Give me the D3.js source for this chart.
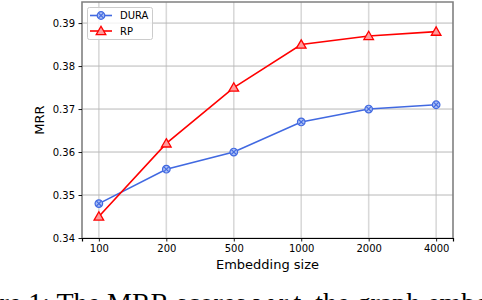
<!DOCTYPE html>
<html>
<head>
<meta charset="utf-8">
<script src="https://cdn.jsdelivr.net/npm/d3@7"></script>
<style>
  body { margin: 0; background: #fff; }
  svg { display: block; }
</style>
</head>
<body>
<script>
const svgW = 482;
const svgH = 300;

// data
const sizes = ['100', '200', '500', '1000', '2000', '4000'];
const dura = [0.348, 0.356, 0.360, 0.367, 0.370, 0.371];
const rp = [0.345, 0.362, 0.375, 0.385, 0.387, 0.388];
const yTicks = [0.34, 0.35, 0.36, 0.37, 0.38, 0.39];

const plot = { left: 82, right: 453, top: 2, bottom: 238 };
const font = 'DejaVu Sans, sans-serif';

const svg = d3.select('body')
  .append('svg')
  .attr('width', svgW)
  .attr('height', svgH);

const xScale = d3.scalePoint()
  .domain(sizes)
  .range([plot.left, plot.right])
  .padding(0.25);

const yScale = d3.scaleLinear()
  .domain([0.34, 0.3949])
  .range([plot.bottom, plot.top]);

// grid
svg.append('g')
  .selectAll('line')
  .data(sizes)
  .enter()
  .append('line')
  .attr('x1', d => xScale(d))
  .attr('x2', d => xScale(d))
  .attr('y1', plot.top)
  .attr('y2', plot.bottom)
  .attr('stroke', '#d9d9d9')
  .attr('stroke-width', 1.6);

svg.append('g')
  .selectAll('line')
  .data(yTicks)
  .enter()
  .append('line')
  .attr('x1', plot.left)
  .attr('x2', plot.right)
  .attr('y1', d => yScale(d))
  .attr('y2', d => yScale(d))
  .attr('stroke', '#b8b8b8')
  .attr('stroke-width', 1);

// spines: gray top/left/right, black bottom
svg.append('path')
  .attr('d', `M${plot.left},${plot.bottom}V${plot.top}H${plot.right}V${plot.bottom}`)
  .attr('fill', 'none')
  .attr('stroke', '#808080')
  .attr('stroke-width', 1.6);

// axes
const xAxis = d3.axisBottom(xScale).tickSize(3.5).tickPadding(3.5);
const gx = svg.append('g')
  .attr('transform', `translate(0, ${plot.bottom})`)
  .call(xAxis);
gx.select('.domain').attr('stroke', '#000').attr('stroke-width', 1.2);

const yAxis = d3.axisLeft(yScale).tickValues(yTicks).tickFormat(d3.format('.2f')).tickSize(3.5).tickPadding(3.5);
const gy = svg.append('g')
  .attr('transform', `translate(${plot.left}, 0)`)
  .call(yAxis);
gy.select('.domain').remove();

svg.selectAll('.tick text')
  .attr('font-family', font)
  .attr('font-size', 10)
  .attr('fill', '#000');
svg.selectAll('.tick line').attr('stroke', '#000').attr('stroke-width', 0.9);

// axis labels
svg.append('text')
  .attr('x', (plot.left + plot.right) / 2)
  .attr('y', 268.5)
  .attr('text-anchor', 'middle')
  .attr('font-family', font)
  .attr('font-size', 13)
  .text('Embedding size');

svg.append('text')
  .attr('transform', `translate(44, ${(plot.top + plot.bottom) / 2}) rotate(-90)`)
  .attr('text-anchor', 'middle')
  .attr('font-family', font)
  .attr('font-size', 13)
  .text('MRR');

// lines
const series = [
  { name: 'DURA', values: dura, color: '#4169e1', fill: '#a9bdf3', marker: 'circle' },
  { name: 'RP', values: rp, color: '#ff0000', fill: '#ff9a9a', marker: 'triangle' }
];

const line = d3.line()
  .x((d, i) => xScale(sizes[i]))
  .y(d => yScale(d));

function drawMarker(g, type, color, fill) {
  if (type === 'circle') {
    g.append('circle').attr('r', 3.8).attr('fill', fill).attr('stroke', color).attr('stroke-width', 1.2);
    g.append('path').attr('d', 'M-2.4,-2.4L2.4,2.4M-2.4,2.4L2.4,-2.4')
      .attr('stroke', color).attr('stroke-width', 1.1);
  } else {
    g.append('path')
      .attr('d', d3.symbol().type(d3.symbolTriangle).size(40)())
      .attr('transform', 'translate(0,0.8)')
      .attr('fill', fill)
      .attr('stroke', color)
      .attr('stroke-width', 1.3);
  }
}

series.forEach(s => {
  svg.append('path')
    .datum(s.values)
    .attr('d', line)
    .attr('fill', 'none')
    .attr('stroke', s.color)
    .attr('stroke-width', 1.6);
  s.values.forEach((v, i) => {
    const g = svg.append('g').attr('transform', `translate(${xScale(sizes[i])}, ${yScale(v)})`);
    drawMarker(g, s.marker, s.color, s.fill);
  });
});

// legend
const legend = svg.append('g');
legend.append('rect')
  .attr('x', 87.5).attr('y', 7.5)
  .attr('width', 65).attr('height', 32)
  .attr('rx', 2)
  .attr('fill', '#fff')
  .attr('fill-opacity', 0.8)
  .attr('stroke', '#cccccc')
  .attr('stroke-width', 1);

series.forEach((s, i) => {
  const y = 15.5 + i * 15.5;
  legend.append('line')
    .attr('x1', 90).attr('x2', 112)
    .attr('y1', y).attr('y2', y)
    .attr('stroke', s.color)
    .attr('stroke-width', 1.6);
  drawMarker(legend.append('g').attr('transform', `translate(101, ${y})`), s.marker, s.color, s.fill);
  legend.append('text')
    .attr('x', 120)
    .attr('y', y + 3.6)
    .attr('font-family', font)
    .attr('font-size', 10)
    .text(s.name);
});

// caption (cut off by the frame, as in the source picture)
const capFont = 'Liberation Serif, Times New Roman, serif';
const cap = svg.append('text')
  .attr('y', 311.5)
  .attr('font-family', capFont)
  .attr('font-size', 28)
  .text('Figure 1: The MRR scores w.r.t. the graph embedding size.');
const pre = svg.append('text')
  .attr('font-family', capFont)
  .attr('font-size', 28)
  .text('Figure 1: ');
const preW = pre.node().getComputedTextLength();
pre.remove();
cap.attr('x', 50 - preW);
</script>
</body>
</html>
